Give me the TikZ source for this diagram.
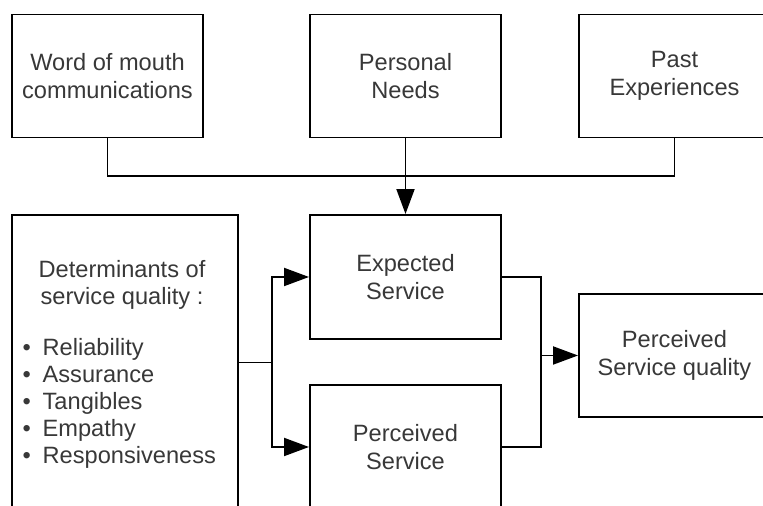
\documentclass[tikz,border=0pt]{standalone}
\usepackage{fontspec}
\setmainfont{Liberation Sans}
\usetikzlibrary{arrows.meta,calc}
\definecolor{txtgray}{HTML}{383838}

\begin{document}
\begin{tikzpicture}[
        box/.style={draw=black, line width=1.4pt, text=txtgray, align=center,
            minimum width=4.775cm, minimum height=3.075cm,
            font=\fontsize{16.8}{19.6}\selectfont},
        link/.style={black, line width=1.4pt},
        flow/.style={link, -{Triangle[length=6.25mm,width=4.5mm]}},
        txt/.style={text=txtgray, inner sep=0pt,
            font=\fontsize{16.8}{19.2}\selectfont},
        every node/.style={color=black},
    ]
    \useasboundingbox (0,0) rectangle (19.075,12.65);
    \clip (0,0) rectangle (19.075,12.65);
    % top row
    \node[box] at (2.6875,10.75) (wom) {Word of mouth\\communications};
    \node[box] at (10.1375,10.75) (needs) {Personal\\Needs};
    \node[box] at (16.8625,10.75) (past) {Past\\Experiences};
    % middle
    \node[box,minimum height=3.1cm] at (10.1375,5.725) (expected) {Expected\\Service};
    \node[box,minimum height=3.1cm] at (10.1375,1.475) (perceived) {Perceived\\Service};
    \node[box] at (16.8625,3.7625) (quality) {Perceived\\Service quality};
    % determinants
    \node[box,minimum width=5.65cm,minimum height=7.375cm] at (3.125,3.5875) (det) {};
    \node[txt,align=center] at (3.05,5.53) (dethead) {Determinants of\\service quality :};
    \newcommand{\bul}{\makebox[0.5cm][l]{\textbullet}}
    \node[txt,align=left,anchor=north west] at (0.56,4.2) (detlist)
        {\bul Reliability\\\bul Assurance\\\bul Tangibles\\\bul Empathy\\\bul Responsiveness};
    % connectors
    \coordinate (join) at ($(needs.south)+(0,-0.95)$);
    \draw[link] (wom.south) |- (join) -| (past.south);
    \draw[flow] (needs.south) -- (expected.north);
    \coordinate (split) at (6.8,0 |- det.east);
    \draw[link] (det.east) -- (split);
    \draw[flow] (split) |- (expected.west);
    \draw[flow] (split) |- (perceived.west);
    \coordinate (merge) at (13.525,0 |- quality.west);
    \draw[link] (expected.east) -| (merge);
    \draw[link] (perceived.east) -| (merge);
    \draw[flow] (merge) -- (quality.west);
\end{tikzpicture}
\end{document}
